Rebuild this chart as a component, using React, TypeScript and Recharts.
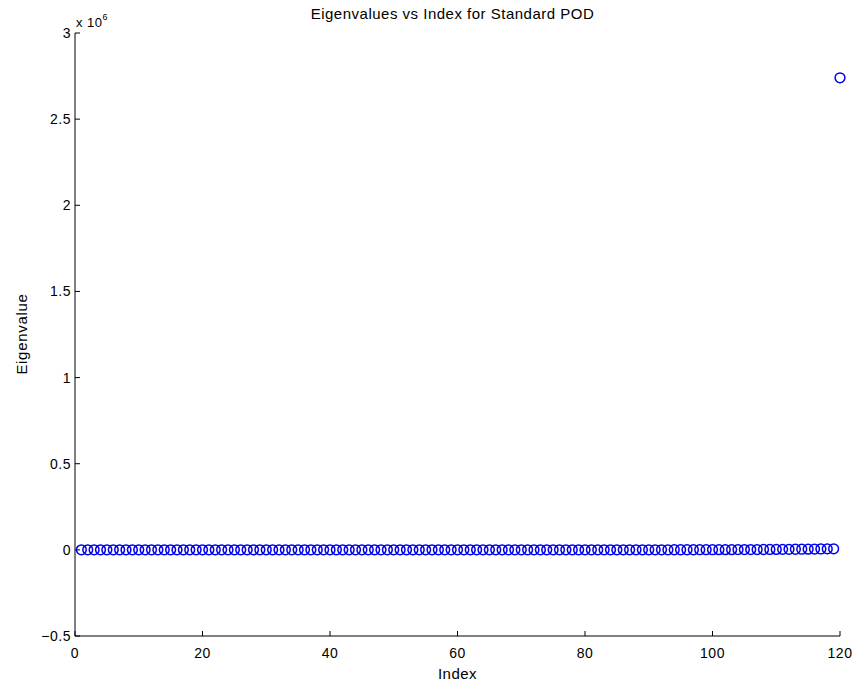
import React from 'react';
import { ScatterChart, Scatter, XAxis, YAxis } from 'recharts';

// eigenvalues sorted ascending, index 1..120
const eigenvalues = [
  0, 0, 0, 0, 0, 0, 0, 0, 0, 0,
  0, 0, 0, 0, 0, 0, 0, 0, 0, 0,
  0, 0, 0, 0, 0, 1, 1, 1, 1, 1,
  1, 1, 1, 2, 2, 2, 2, 2, 3, 3,
  3, 3, 4, 4, 4, 5, 5, 6, 6, 7,
  7, 8, 9, 10, 11, 12, 13, 14, 16, 18,
  20, 22, 24, 27, 30, 33, 36, 40, 44, 49,
  54, 60, 66, 73, 80, 88, 97, 107, 118, 130,
  143, 158, 174, 192, 212, 234, 258, 285, 315, 348,
  384, 424, 468, 517, 571, 631, 697, 770, 851, 940,
  1040, 1150, 1270, 1400, 1550, 1710, 1890, 2090, 2310, 2550,
  2820, 3120, 3450, 3810, 4210, 4650, 5140, 5680, 6280, 2740000,
];

const xTicks = [0, 20, 40, 60, 80, 100, 120];
const yTicks = [-500000, 0, 500000, 1000000, 1500000, 2000000, 2500000, 3000000];

const data = eigenvalues.map((v, i) => ({ index: i + 1, value: v }));

const W = 859;
const H = 689;
const FONT = '"Liberation Sans", Arial, Helvetica, sans-serif';
const TICK_MARGIN = 5;

const fmtY = (v: number) => {
  const s = String(v / 1e6);
  return s.startsWith('-') ? '\u2212' + s.slice(1) : s;
};

const YTick = (props: any) => {
  const { x, y, payload } = props;
  const ax = x + TICK_MARGIN;
  return (
    <g>
      <line x1={ax} x2={ax + 5} y1={y} y2={y} stroke="#000" strokeWidth={1} />
      <text x={ax - 4} y={y} dy="0.36em" textAnchor="end" fontSize={14} fontFamily={FONT} letterSpacing={0.5} fill="#000">
        {fmtY(payload.value)}
      </text>
    </g>
  );
};

const XTick = (props: any) => {
  const { x, y, payload } = props;
  const ay = y - TICK_MARGIN;
  return (
    <g>
      <line x1={x} x2={x} y1={ay} y2={ay - 5} stroke="#000" strokeWidth={1} />
      <text x={x} y={ay + 22} textAnchor="middle" fontSize={14} fontFamily={FONT} letterSpacing={0.5} fill="#000">
        {payload.value}
      </text>
    </g>
  );
};

const Ring = (props: any) => (
  <circle cx={props.cx} cy={props.cy} r={4.9} fill="none" stroke="#0000ee" strokeWidth={1.5} />
);

export default function App() {
  return (
    <div style={{ position: 'absolute', left: 0, top: 0, width: W, height: H, background: '#fff', fontFamily: FONT }}>
      <ScatterChart width={W} height={H} margin={{ top: 33, right: 19, bottom: 0, left: 0 }}>
        <XAxis
          type="number"
          dataKey="index"
          domain={[0, 120]}
          ticks={xTicks}
          height={53}
          stroke="#000"
          tickSize={0}
          tickMargin={TICK_MARGIN}
          tickLine={false}
          tick={<XTick />}
        />
        <YAxis
          type="number"
          dataKey="value"
          domain={[-500000, 3000000]}
          ticks={yTicks}
          width={75}
          stroke="#000"
          tickSize={0}
          tickMargin={TICK_MARGIN}
          tickLine={false}
          tick={<YTick />}
        />
        <Scatter data={data} shape={<Ring />} isAnimationActive={false} />
      </ScatterChart>

      <div style={{ position: 'absolute', left: 0, width: 905, top: 5, textAlign: 'center', fontSize: 15, letterSpacing: 0.5, color: '#000', whiteSpace: 'nowrap' }}>
        Eigenvalues vs Index for Standard POD
      </div>
      <div style={{ position: 'absolute', left: 76, top: 14, fontSize: 13, letterSpacing: 0.5, color: '#000', whiteSpace: 'nowrap' }}>
        x 10<sup style={{ fontSize: 9, position: 'relative', top: -2 }}>6</sup>
      </div>
      <div style={{ position: 'absolute', left: 0, width: 915, top: 665, textAlign: 'center', fontSize: 15, letterSpacing: 0.5, color: '#000' }}>
        Index
      </div>
      <div
        style={{
          position: 'absolute',
          left: 21,
          top: 334,
          transform: 'translate(-50%, -50%) rotate(-90deg)',
          fontSize: 15,
          letterSpacing: 0.7,
          color: '#000',
          whiteSpace: 'nowrap',
        }}
      >
        Eigenvalue
      </div>
    </div>
  );
}
